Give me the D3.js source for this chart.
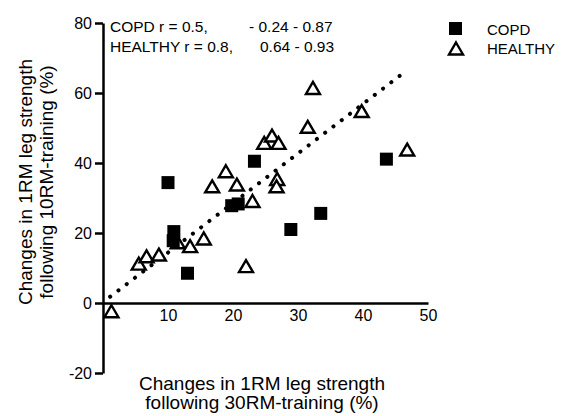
<!DOCTYPE html>
<html>
<head>
<meta charset="utf-8">
<script src="https://cdn.jsdelivr.net/npm/d3@7"></script>
<style>
  body { margin: 0; background: #fff; }
  text { font-family: "Liberation Sans", Arial, sans-serif; fill: #000; }
</style>
</head>
<body>
<svg width="561" height="416"></svg>
<script>
// data
const copdX = [10.0, 23.3, 43.6, 19.8, 20.8, 33.5, 28.9, 10.9, 10.8, 13.0];
const copdY = [34.4, 40.5, 41.1, 27.8, 28.3, 25.6, 21.0, 20.4, 17.8, 8.5];

const healthyX = [1.3, 5.5, 6.7, 8.6, 11.5, 13.4, 15.5, 22.0, 16.8, 18.9, 20.6,
                  23.0, 24.8, 26.0, 27.0, 26.8, 26.7, 31.5, 32.3, 39.8, 46.8];
const healthyY = [-2.5, 11.1, 13.2, 13.7, 17.2, 16.1, 18.3, 10.4, 33.2, 37.5, 33.7,
                  29.0, 45.6, 47.7, 45.6, 35.3, 33.2, 50.2, 61.3, 54.7, 43.7];

// dotted regression line end points
const fitX = [1.1, 46.0];
const fitY = [1.8, 65.4];

const xTicks = [10, 20, 30, 40, 50];
const yTicks = [-20, 0, 20, 40, 60, 80];

const svg = d3.select('svg');

const xScale = d3.scaleLinear().domain([0, 50]).range([103, 428]);
const yScale = d3.scaleLinear().domain([-20, 80]).range([373, 23]);

// y axis (plain hyphen for negatives)
const yAxis = d3.axisLeft(yScale).tickValues(yTicks).tickFormat(d => String(d))
    .tickSize(8).tickSizeOuter(0).tickPadding(3);
const gy = svg.append('g').attr('transform', `translate(${xScale(0)},0)`).call(yAxis);
gy.select('.domain').attr('stroke', '#000').attr('stroke-width', 2.5);
gy.selectAll('.tick line').attr('stroke', '#000').attr('stroke-width', 2.5);
gy.selectAll('.tick text').attr('font-size', 16).attr('font-family', '"Liberation Sans", Arial, sans-serif');

// x axis at y = 0, no tick marks
const xAxis = d3.axisBottom(xScale).tickValues(xTicks).tickSize(0).tickSizeOuter(0).tickPadding(7);
const gx = svg.append('g').attr('transform', `translate(0,${yScale(0)})`).call(xAxis);
gx.select('.domain').attr('stroke', '#000').attr('stroke-width', 2.5);
gx.selectAll('.tick text').attr('font-size', 16).attr('font-family', '"Liberation Sans", Arial, sans-serif');

// regression line
svg.append('line')
    .attr('x1', xScale(fitX[0])).attr('y1', yScale(fitY[0]))
    .attr('x2', xScale(fitX[1])).attr('y2', yScale(fitY[1]))
    .attr('stroke', '#000')
    .attr('stroke-width', 4)
    .attr('stroke-linecap', 'round')
    .attr('stroke-dasharray', '0.1 10.3');

const tri = 'M0,-6.5L7,5.5L-7,5.5Z';

// healthy triangles
svg.selectAll('path.healthy')
    .data(healthyX.map((x, i) => [x, healthyY[i]]))
    .enter()
    .append('path')
    .attr('class', 'healthy')
    .attr('d', tri)
    .attr('transform', d => `translate(${xScale(d[0])},${yScale(d[1])})`)
    .attr('fill', '#fff')
    .attr('stroke', '#000')
    .attr('stroke-width', 2.4);

// copd squares
svg.selectAll('rect.copd')
    .data(copdX.map((x, i) => [x, copdY[i]]))
    .enter()
    .append('rect')
    .attr('class', 'copd')
    .attr('x', d => xScale(d[0]) - 6.5)
    .attr('y', d => yScale(d[1]) - 6.5)
    .attr('width', 13)
    .attr('height', 13)
    .attr('fill', '#000');

// r annotation
const note = svg.append('g').attr('font-size', 15.5);
note.append('text').attr('x', 110).attr('y', 32).text('COPD r = 0.5,');
note.append('text').attr('x', 249).attr('y', 32).text('- 0.24 - 0.87');
note.append('text').attr('x', 110).attr('y', 52).text('HEALTHY r = 0.8,');
note.append('text').attr('x', 260).attr('y', 52).text('0.64 - 0.93');

// legend
svg.append('rect').attr('x', 449).attr('y', 22).attr('width', 13).attr('height', 13).attr('fill', '#000');
svg.append('path').attr('d', tri).attr('transform', 'translate(456,49)')
    .attr('fill', '#fff').attr('stroke', '#000').attr('stroke-width', 2.4);
svg.append('text').attr('x', 487).attr('y', 35).attr('font-size', 15).text('COPD');
svg.append('text').attr('x', 487).attr('y', 54).attr('font-size', 15).text('HEALTHY');

// axis titles
const xt = svg.append('text').attr('text-anchor', 'middle').attr('font-size', 19);
xt.append('tspan').attr('x', 262).attr('y', 390).text('Changes in 1RM leg strength');
xt.append('tspan').attr('x', 262).attr('y', 409).text('following 30RM-training (%)');

const yt = svg.append('text').attr('text-anchor', 'middle').attr('font-size', 19)
    .attr('transform', 'translate(0,182) rotate(-90)');
yt.append('tspan').attr('x', 0).attr('y', 32).text('Changes in 1RM leg strength');
yt.append('tspan').attr('x', 0).attr('y', 53).text('following 10RM-training (%)');
</script>
</body>
</html>
